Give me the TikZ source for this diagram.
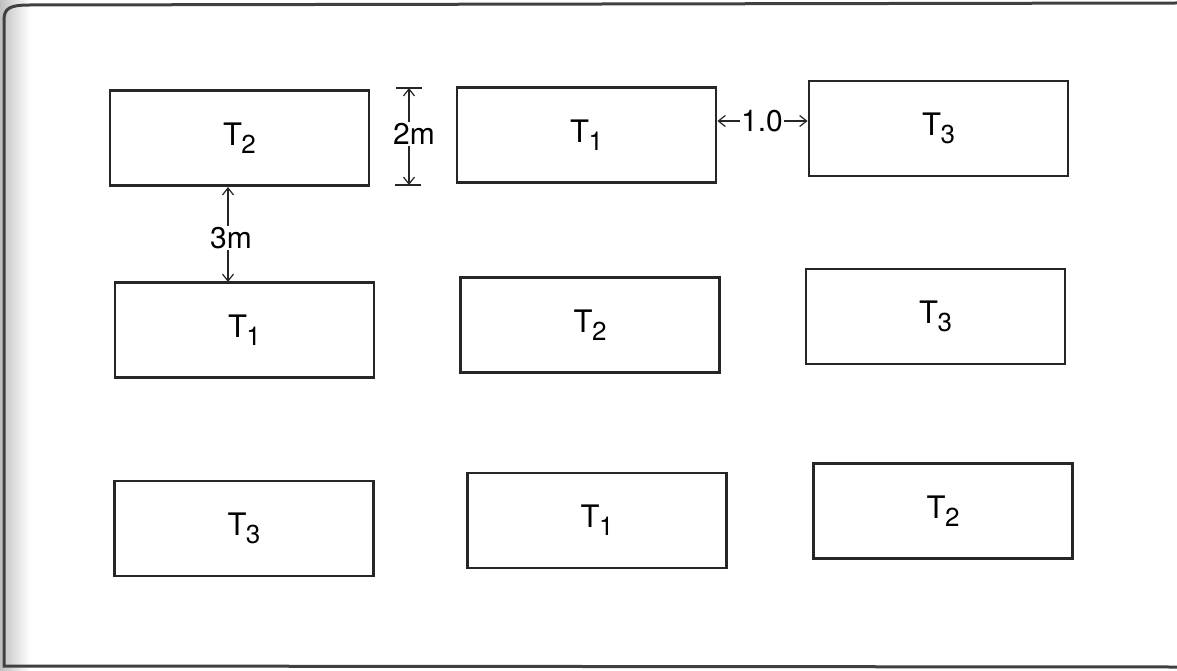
\documentclass[tikz,border=0pt]{standalone}
\usepackage{fontspec}
\setmainfont{TeX Gyre Heros}
\usetikzlibrary{arrows.meta}
\newcommand{\tlab}[1]{T\kern-0.5pt\raisebox{-8pt}{\fontsize{26}{26}\selectfont #1}}
\tikzset{
  plotbox/.style={draw=black!85, line width=2.8pt, minimum width=259pt, minimum height=95pt,
    inner sep=0pt, font=\fontsize{31}{32}\selectfont},
  dimlab/.style={inner sep=1pt, font=\fontsize{30}{31}\selectfont},
  dimarrow/.style={draw=black!85, line width=1.2pt, -{Straight Barb[length=7pt,width=11pt]}},
  dimtick/.style={draw=black!85, line width=1.2pt},
  frameline/.style={draw=black!75, line width=3pt}
}
\begin{document}
\begin{tikzpicture}[x=1pt,y=-1pt]
\useasboundingbox (0,0) rectangle (1177,671);
% scan frame
\shade[left color=black!25, right color=white] (0,0) rectangle (30,671);
\draw[frameline] (4,20) .. controls (4,8) and (10,5) .. (30,5) -- (1177,3);
\draw[frameline] (4,20) -- (4,666) -- (1177,667);
% plots
\node[plotbox] (a1) at (239.5,138) {\tlab{2}};
\node[plotbox] (a2) at (586.5,135) {\tlab{1}};
\node[plotbox] (a3) at (938.5,128.5) {\tlab{3}};
\node[plotbox] (b1) at (244.5,330) {\tlab{1}};
\node[plotbox] (b2) at (590,325) {\tlab{2}};
\node[plotbox] (b3) at (935.5,316.5) {\tlab{3}};
\node[plotbox] (c1) at (244,528.5) {\tlab{3}};
\node[plotbox] (c2) at (597,520.5) {\tlab{1}};
\node[plotbox] (c3) at (943,511) {\tlab{2}};
% 2m dimension
\node[dimlab] (l2m) at (414,134) {2m};
\coordinate (t2top) at (409,88);
\coordinate (t2bot) at (409,185);
\draw[dimtick] (396,88) -- (422,88);
\draw[dimtick] (395,185) -- (421,185);
\draw[dimarrow] (l2m.north -| t2top) -- (t2top);
\draw[dimarrow] (l2m.south -| t2bot) -- (t2bot);
% 3m dimension
\node[dimlab] (l3m) at (231,238) {3m};
\coordinate (t3top) at (228,187);
\coordinate (t3bot) at (228,282);
\draw[dimarrow] (l3m.north -| t3top) -- (t3top);
\draw[dimarrow] (l3m.south -| t3bot) -- (t3bot);
% 1.0 dimension
\node[dimlab] (l10) at (762,121) {1.0};
\draw[dimarrow] (l10.west) -- (l10.west -| a2.east);
\draw[dimarrow] (l10.east) -- (l10.east -| a3.west);
\end{tikzpicture}
\end{document}
